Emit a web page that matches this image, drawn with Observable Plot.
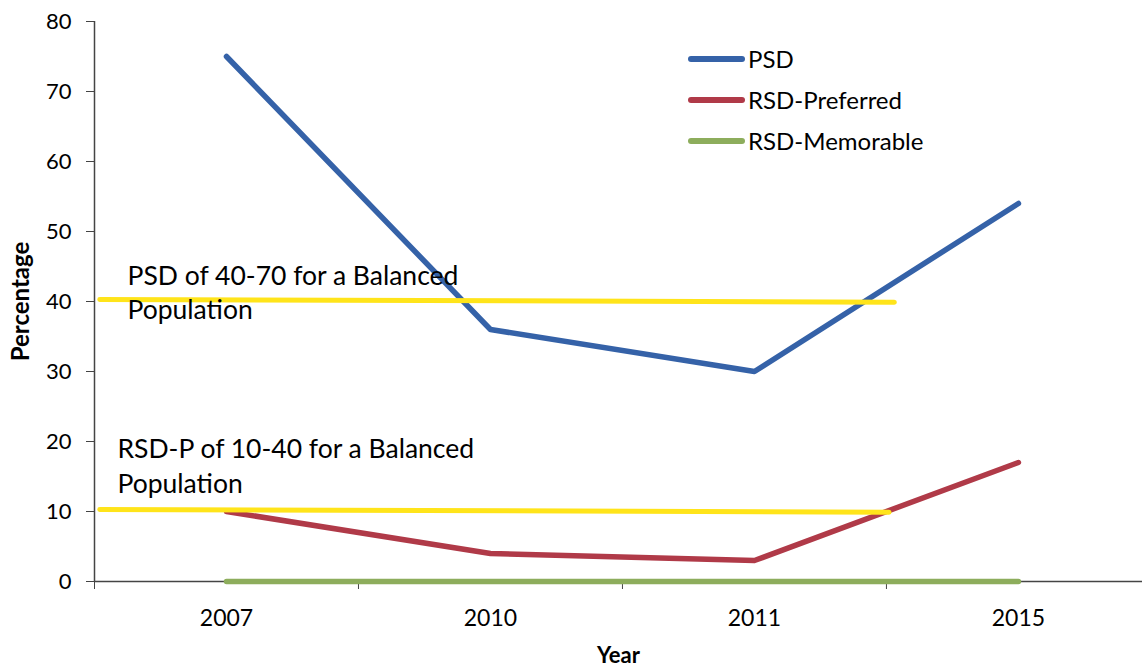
<!DOCTYPE html>
<html>
<head>
<meta charset="utf-8">
<script src="https://cdn.jsdelivr.net/npm/d3@7"></script>
<script src="https://cdn.jsdelivr.net/npm/@observablehq/plot@0.6"></script>
<style>
  html, body { margin: 0; padding: 0; background: #fff; }
  #wrap { position: relative; width: 1142px; height: 668px; font-family: Lato, "Open Sans", sans-serif; }
  #legend { position: absolute; left: 688px; top: 38px; }
  .li { display: flex; align-items: center; height: 41px; font-size: 24px; color: #000; }
  .sw { width: 57px; height: 6px; border-radius: 3px; margin-right: 3px; }
</style>
</head>
<body>
<div id="wrap"><div id="chart"></div><div id="legend"></div></div>
<script>
// ---- data ----
const years = ["2007", "2010", "2011", "2015"];
const psd = [75, 36, 30, 54];
const rsdPreferred = [10, 4, 3, 17];
const rsdMemorable = [0, 0, 0, 0];
const seriesNames = ["PSD", "RSD-Preferred", "RSD-Memorable"];
const seriesColors = ["#3562a8", "#b03a48", "#8dad5c"];
const yTicks = [0, 10, 20, 30, 40, 50, 60, 70, 80];
// balanced-population reference lines (lower bounds), in year-index units
const refLines = [
  {name: "PSD", pts: [[-0.48, 40.3], [2.53, 39.9]]},
  {name: "RSD-P", pts: [[-0.48, 10.3], [2.51, 9.9]]}
];
const annotations = [
  {text: "PSD of 40-70 for a Balanced\nPopulation", x: -0.375, y: 45.9},
  {text: "RSD-P of 10-40 for a Balanced\nPopulation", x: -0.413, y: 21.1}
];

const allSeries = [psd, rsdPreferred, rsdMemorable];
const rows = [];
allSeries.forEach((vals, s) => vals.forEach((v, i) => rows.push({series: seriesNames[s], i, v})));
const refRows = refLines.flatMap(r => r.pts.map(([x, y]) => ({name: r.name, x, y})));
const boundaries = years.map((_, i) => i - 0.5);

const chart = Plot.plot({
  width: 1142,
  height: 668,
  marginLeft: 94,
  marginRight: 0,
  marginTop: 21,
  marginBottom: 87,
  style: {fontFamily: "Lato, 'Open Sans', sans-serif", color: "#000", background: "#fff"},
  x: {domain: [-0.5, 3.47], axis: null},
  y: {domain: [0, 80], axis: null},
  color: {domain: seriesNames, range: seriesColors},
  marks: [
    // axes
    Plot.axisY({ticks: yTicks, tickSize: 8, tickPadding: 15, fontSize: 22, stroke: "#444", label: null}),
    Plot.axisX({ticks: boundaries, tickSize: 8, tickFormat: () => "", stroke: "#444", label: null}),
    Plot.axisX({ticks: years.map((_, i) => i), tickSize: 0, tickPadding: 28, fontSize: 23, tickFormat: i => years[i], label: null}),
    Plot.ruleX([-0.5], {stroke: "#444", strokeWidth: 1.5}),
    Plot.ruleY([0], {stroke: "#444", strokeWidth: 1.5}),
    // data lines
    Plot.line(rows, {x: "i", y: "v", z: "series", stroke: "series", strokeWidth: 5.5}),
    // reference lines
    Plot.line(refRows, {x: "x", y: "y", z: "name", stroke: "#ffe41a", strokeWidth: 5, strokeLinecap: "round"}),
    // annotations
    Plot.text(annotations, {x: "x", y: "y", text: "text", textAnchor: "start", lineAnchor: "top", lineHeight: 1.3, fontSize: 26.5, fill: "#000"}),
    // axis titles
    Plot.text(["Percentage"], {frameAnchor: "left", dx: -73, textAnchor: "middle", rotate: -90, fontSize: 24, fontWeight: "bold", fill: "#000"}),
    Plot.text(["Year"], {frameAnchor: "bottom", dy: 81, textAnchor: "middle", fontSize: 22, fontWeight: "bold", fill: "#000"})
  ]
});
document.getElementById("chart").appendChild(chart);

const legend = document.getElementById("legend");
seriesNames.forEach((n, k) => {
  const d = document.createElement("div");
  d.className = "li";
  d.innerHTML = `<span class="sw" style="background:${seriesColors[k]}"></span><span>${n}</span>`;
  legend.appendChild(d);
});
</script>
</body>
</html>
